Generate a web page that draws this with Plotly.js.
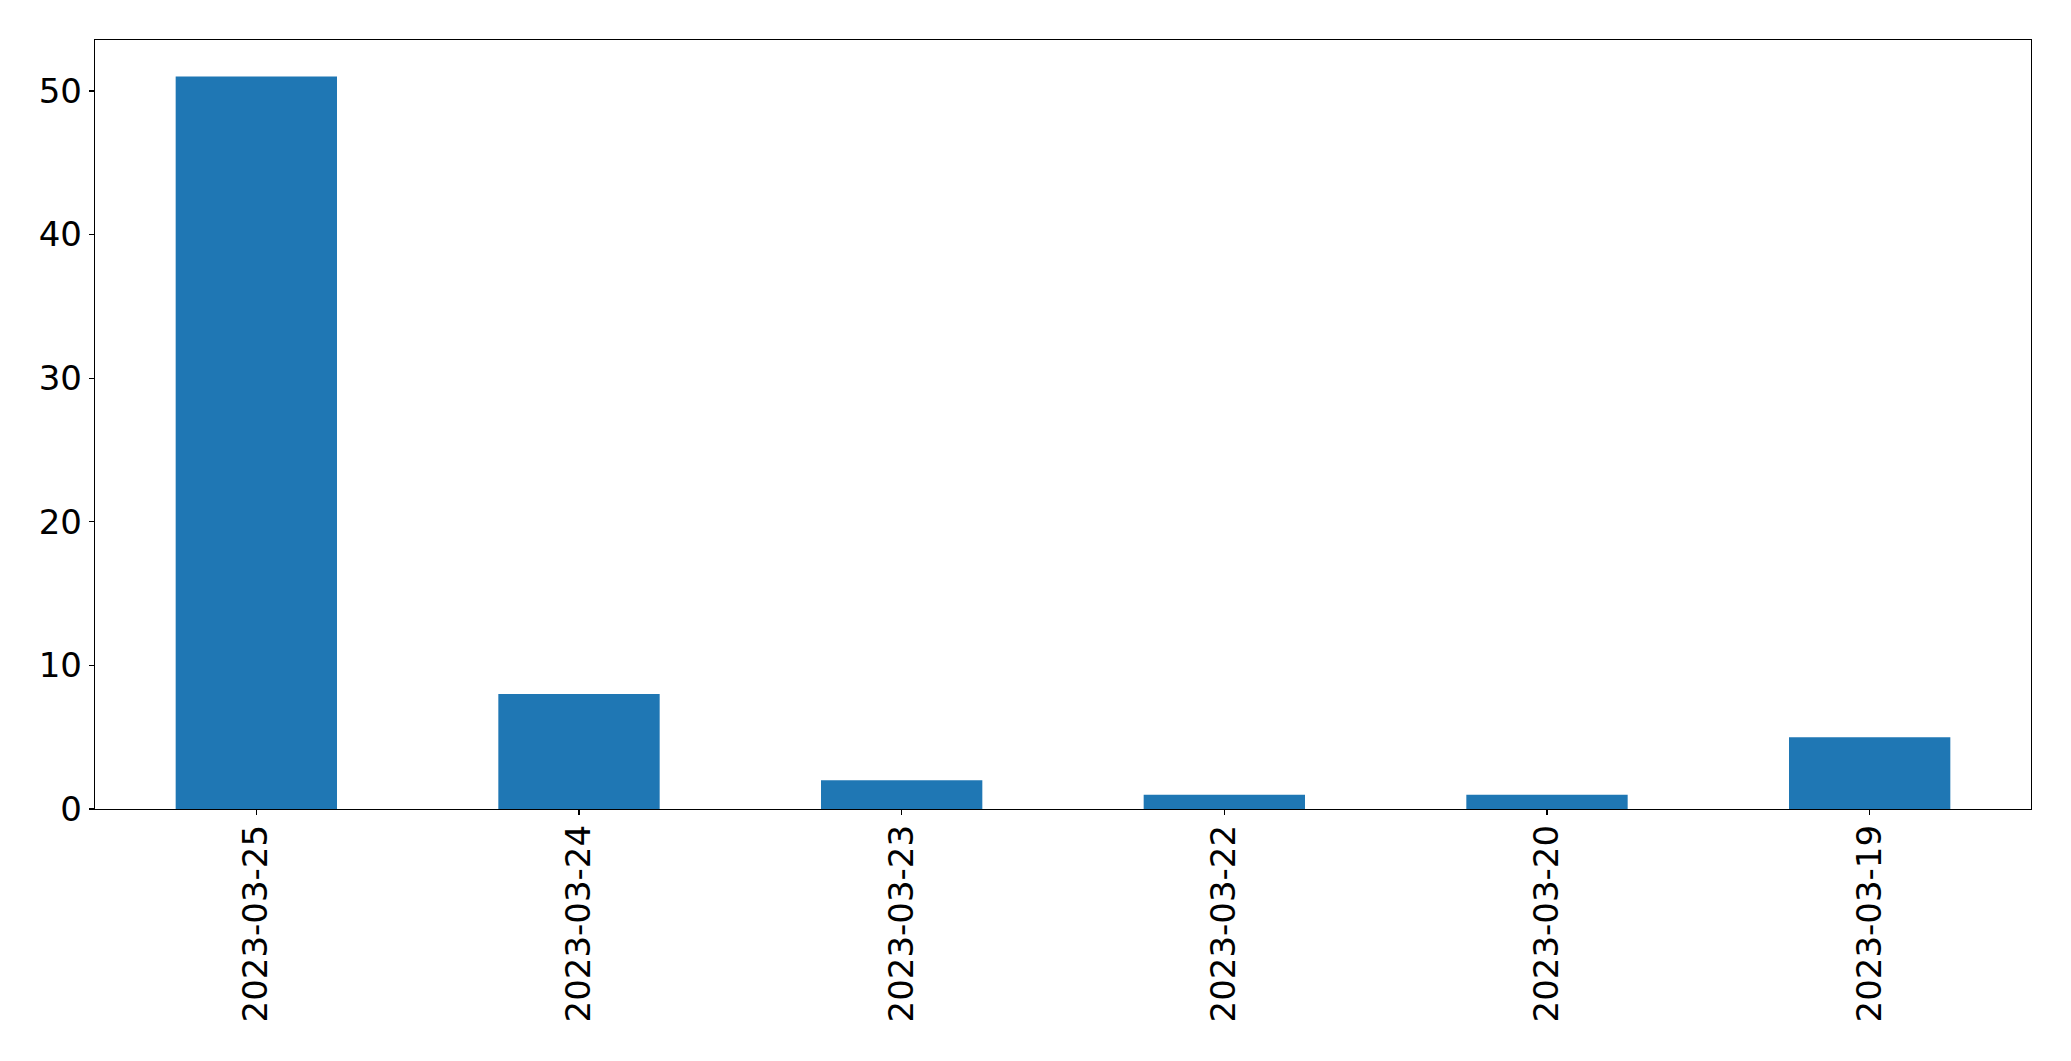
<!DOCTYPE html>
<html>
<head>
<meta charset="utf-8">
<script src="https://cdn.plot.ly/plotly-3.0.1.min.js"></script>
<style>
  html, body { margin: 0; padding: 0; background: #ffffff; }
  #chart { width: 2071px; height: 1061px; }
</style>
</head>
<body>
<div id="chart"></div>
<script>
const categories = ["2023-03-25", "2023-03-24", "2023-03-23", "2023-03-22", "2023-03-20", "2023-03-19"];
const counts = [51, 8, 2, 1, 1, 5];

const trace = {
  type: "bar",
  x: categories,
  y: counts,
  width: 0.5,
  marker: { color: "#1f77b4", line: { width: 0 } },
  hoverinfo: "x+y"
};

const axisFont = { family: "DejaVu Sans, sans-serif", size: 34, color: "#000000" };

const layout = {
  width: 2071,
  height: 1061,
  margin: { l: 94.5, r: 40, t: 39.5, b: 252, pad: 0 },
  paper_bgcolor: "#ffffff",
  plot_bgcolor: "#ffffff",
  showlegend: false,
  bargap: 0.5,
  xaxis: {
    type: "category",
    categoryorder: "array",
    categoryarray: categories,
    range: [-0.5, 5.5],
    tickangle: -90,
    tickfont: axisFont,
    ticks: "outside",
    ticklen: 5,
    tickwidth: 1.3,
    tickcolor: "#000000",
    showline: true,
    linecolor: "#000000",
    linewidth: 1.3,
    mirror: true,
    showgrid: false,
    zeroline: false,
    ticklabelstandoff: -4
  },
  yaxis: {
    range: [0, 53.55],
    tickvals: [0, 10, 20, 30, 40, 50],
    ticktext: ["0", "10", "20", "30", "40", "50"],
    tickfont: axisFont,
    ticks: "outside",
    ticklen: 5,
    tickwidth: 1.3,
    tickcolor: "#000000",
    showline: true,
    linecolor: "#000000",
    linewidth: 1.3,
    mirror: true,
    showgrid: false,
    zeroline: false
  }
};

Plotly.newPlot("chart", [trace], layout, { displayModeBar: false, staticPlot: true });
</script>
</body>
</html>
